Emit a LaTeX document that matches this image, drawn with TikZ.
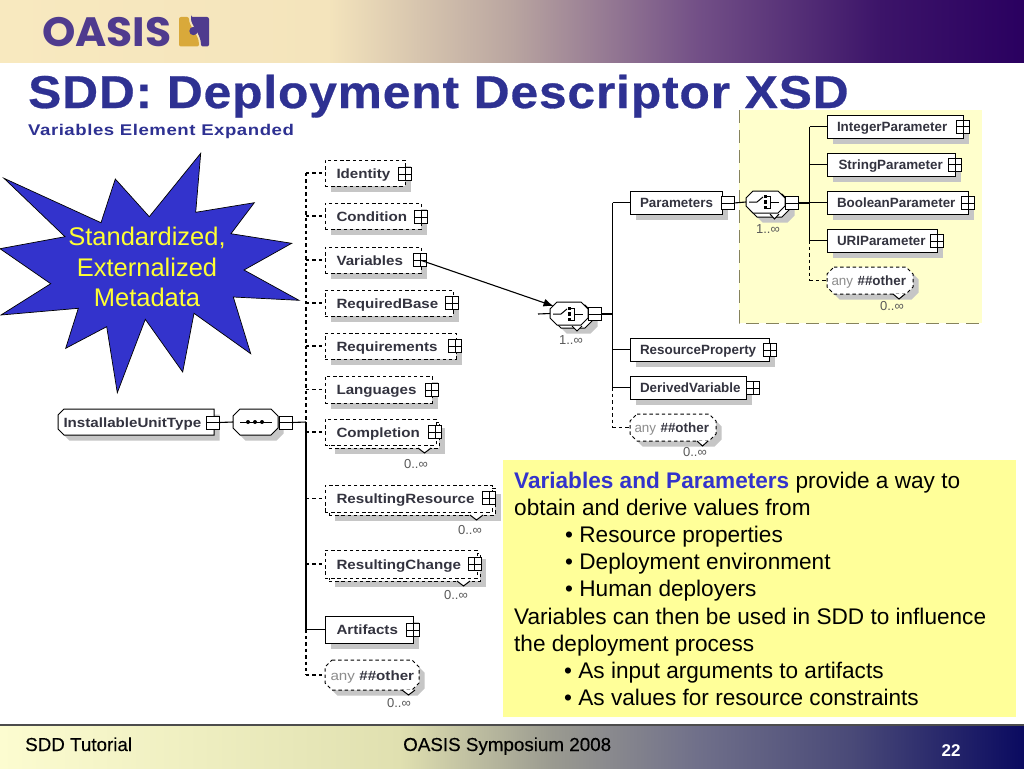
\documentclass[tikz,border=0pt]{standalone}
\usepackage{fontspec}
\setmainfont{Liberation Sans}
\newfontfamily\logofont[FakeStretch=1.035]{Poppins}
\newfontfamily\titlefont[FakeStretch=1.08,LetterSpace=1.9,FakeBold=0.6]{Liberation Sans}
\newfontfamily\subfont[FakeStretch=1.2,LetterSpace=3.5]{Liberation Sans}
\newfontfamily\elemwide[FakeStretch=1.13]{Liberation Sans}
\newfontfamily\elemplain{Liberation Sans}
\newfontfamily\footfont[FakeBold=0.3]{Liberation Sans}
\newcommand{\curelem}{\elemwide}
\usetikzlibrary{shapes.misc,shadows,arrows.meta}
\definecolor{bandpurple}{HTML}{2A0060}
\definecolor{titleblue}{HTML}{2E3192}
\definecolor{logopurple}{HTML}{4F3B8E}
\definecolor{logogold}{HTML}{D9A93A}
\definecolor{panelyellow}{HTML}{FFFFCC}
\definecolor{calloutyellow}{HTML}{FFFF99}
\definecolor{starblue}{HTML}{3333CC}
\definecolor{staryellow}{HTML}{FFFF33}
\definecolor{shadowgray}{HTML}{C6C6C6}
\definecolor{elemtext}{HTML}{33333F}
\definecolor{bandA}{HTML}{F8E9BF}
\definecolor{bandB}{HTML}{F4E4BC}
\definecolor{bandC}{HTML}{B9A5A0}
\definecolor{bandD}{HTML}{735087}
\definecolor{bandE}{HTML}{3C1469}
\definecolor{footA}{HTML}{FCFCD0}
\definecolor{footB}{HTML}{E0E0B0}
\definecolor{footC}{HTML}{9A9A90}
\definecolor{footD}{HTML}{70708A}
\definecolor{footE}{HTML}{4A4A78}
\definecolor{footF}{HTML}{0A0A60}
\pgfdeclarehorizontalshading{bandshade}{100bp}{color(0bp)=(bandA);color(25bp)=(bandA);color(41bp)=(bandB);color(50bp)=(bandC);color(59bp)=(bandD);color(68bp)=(bandE);color(75bp)=(bandpurple);color(100bp)=(bandpurple)}
\pgfdeclarehorizontalshading{footshade}{100bp}{color(0bp)=(footA);color(25bp)=(footA);color(44.5bp)=(footB);color(52bp)=(footC);color(59bp)=(footD);color(66.5bp)=(footE);color(75bp)=(footF);color(100bp)=(footF)}
\tikzset{
  elemline/.style={line width=1pt,draw=black},
  conn/.style={line width=1.1pt,draw=black},
  conndash/.style={line width=1.05pt,draw=black,dash pattern=on 3.4pt off 3pt},
  dashline/.style={dash pattern=on 3.4pt off 2.8pt},
  elembase/.style={rectangle,elemline,fill=white,inner sep=0pt,outer sep=0pt,text=elemtext,align=left,
    font=\fontsize{13.4}{15}\curelem\bfseries\selectfont,text height=12pt,text depth=2pt},
  castshadow/.style={drop shadow={shadow xshift=5.5pt,shadow yshift=-5.5pt,fill=shadowgray,opacity=1}},
  solidelem/.style={elembase,castshadow},
  dashelem/.style={elembase,castshadow,dashline},
  dashflat/.style={elembase,dashline},
  chamlabel/.style={elembase,draw=none,fill=none},
  plusbox/.style={rectangle,elemline,fill=white,inner sep=0pt,outer sep=0pt,minimum size=13pt,
    path picture={\draw[line width=0.9pt] (path picture bounding box.north) -- (path picture bounding box.south)
      (path picture bounding box.west) -- (path picture bounding box.east);}},
  minusbox/.style={rectangle,elemline,fill=white,inner sep=0pt,outer sep=0pt,minimum size=13pt,
    path picture={\draw[line width=0.9pt] (path picture bounding box.west) -- (path picture bounding box.east);}},
  occurs/.style={text=black!65,inner sep=0pt,font=\fontsize{13}{15}\selectfont},
}
\newcommand{\Elem}[7]{\node[#6,minimum width={(#4-#2)*1pt},minimum height={(#5-#3)*1pt},text width={(#4-#2)*1pt}] (#1) at ({(#2+#4)/2},{(#3+#5)/2}) {\hspace*{11.5pt}\makebox[0pt][l]{#7}};}
% x1 y1 x2 y2 left-chamfer right-chamfer
\newcommand{\ChamPath}[6]{({#1+#5},#2) -- ({#3-#6},#2) -- (#3,{#2+#6}) -- (#3,{#4-#6}) -- ({#3-#6},#4) -- ({#1+#5},#4) -- (#1,{#4-#5}) -- (#1,{#2+#5}) -- cycle}
\newcommand{\ChamShadow}[6]{\fill[shadowgray,shift={(5.5,5.5)}] \ChamPath{#1}{#2}{#3}{#4}{#5}{#6};}
% name x1 y1 x2 y2 cl cr linestyle text
\newcommand{\Cham}[9]{\draw[elemline,fill=white,#8] \ChamPath{#2}{#3}{#4}{#5}{#6}{#7};
  \node[chamlabel,minimum width={(#4-#2)*1pt},minimum height={(#5-#3)*1pt},text width={(#4-#2)*1pt}] (#1) at ({(#2+#4)/2},{(#3+#5)/2}) {\hspace*{11.5pt}\makebox[0pt][l]{#9}};}
\newcommand{\Plus}[3]{\node[plusbox] (#1) at (#2,#3) {};}
\newcommand{\Minus}[3]{\node[minusbox] (#1) at (#2,#3) {};}
\newcommand{\Caret}[3]{\draw[elemline,fill=white] (#1,#3) -- ({(#1+#2)/2},{#3+5}) -- (#2,#3);}
\newcommand{\Occ}[3]{\node[occurs,anchor=center] (#1) at (#2,#3) {0..∞};}
\newcommand{\OccOne}[3]{\node[occurs,anchor=center] (#1) at (#2,#3) {1..∞};}
\newcommand{\AnyText}{{\mdseries\color{black!45}any} \#\#other}
\newcommand{\SwitchGlyph}[2]{%
  \begin{scope}[shift={(#1,#2)}]
    \draw[line width=1pt] (-17,0) -- (-9,0) -- (-3,-5);
    \fill (-2.5,-7) rectangle +(3.4,3.4);
    \fill (-2.5,-1.7) rectangle +(3.4,3.4);
    \fill (-2.5,3.6) rectangle +(3.4,3.4);
    \draw[line width=1pt] (1,-6) -- (4,-6) -- (4,6) -- (1,6) (4,0) -- (13,0);
  \end{scope}}
\begin{document}
\begin{tikzpicture}[x=1pt,y=-1pt]
\useasboundingbox (0,0) rectangle (1024,768);
\fill[white] (0,0) rectangle (1024,768);
% top band
\shade[shading=bandshade] (0,0) rectangle (1024,62);
% logo
\node[inner sep=0pt,anchor=base west,text=logopurple,font=\fontsize{41}{41}\logofont\bfseries\selectfont] (oasislogo) at (42,46.5) {OASIS};
\fill[logogold,rounded corners=2pt] (179,17) -- (189,17) .. controls (189,27) and (199,34) .. (199,46.5) -- (179,46.5) -- cycle;
\fill[logopurple,rounded corners=2pt] (191,17) -- (209,17) -- (209,46.5) -- (201,46.5) .. controls (201,34) and (191,25) .. (191,17) -- cycle;
\fill[logopurple] (193.5,31) circle (4.2);
% title
\node[inner sep=0pt,anchor=base west,text=titleblue,font=\fontsize{46}{46}\titlefont\bfseries\selectfont] (title) at (28,108) {SDD: Deployment Descriptor XSD};
\node[inner sep=0pt,anchor=base west,text=titleblue,font=\fontsize{15.5}{16}\subfont\bfseries\selectfont] (subtitle) at (28,135) {Variables Element Expanded};
% pale panel
\fill[panelyellow] (739,110) rectangle (982,323);
\draw[line width=1pt,draw=black!55!olive!70,dash pattern=on 13pt off 7pt] (739,110) -- (739,323) -- (982,323);
% star
\draw[fill=starblue,draw=black,line width=0.7pt,line join=miter] (200.7,153.3) -- (195.7,212.3) -- (254.3,202.7) -- (231,233.7) -- (291.7,243.3) -- (244,270) -- (299,300.3) -- (233.3,297) -- (250.7,353.7) -- (194,313.3) -- (182.7,372) -- (145.3,319.3) -- (117.3,392.7) -- (106.7,326.7) -- (65.7,348.3) -- (78.3,308.3) -- (1,315) -- (50.7,283.7) -- (0,248.7) -- (65,236.7) -- (4,178.3) -- (101,222.7) -- (115.3,179) -- (149.3,216.7) -- cycle;
\node[inner sep=0pt,text=staryellow,align=center,anchor=center,font=\fontsize{25.5}{30.7}\selectfont] (startext) at (147,267) {Standardized,\\Externalized\\Metadata};
% callout
\node[rectangle,fill=calloutyellow,inner sep=0pt,minimum width=513pt,minimum height=257pt,anchor=north west] (callout) at (503,460) {};
\node[inner sep=0pt,anchor=north west,align=left,text=black,font=\fontsize{22.6}{27.2}\selectfont] (callouttext) at (514,471.5) {{\bfseries\color{starblue}Variables and Parameters} provide a way to\\obtain and derive values from\\\hspace*{51pt}• Resource properties\\\hspace*{51pt}• Deployment environment\\\hspace*{51pt}• Human deployers\\Variables can then be used in SDD to influence\\the deployment process\\\hspace*{50pt}• As input arguments to artifacts\\\hspace*{50pt}• As values for resource constraints};
% footer
\shade[shading=footshade] (0,725) rectangle (1024,768);
\draw[line width=1.2pt,draw=black!70] (0,725) -- (1024,725);
\node[inner sep=0pt,anchor=base west,font=\fontsize{18.8}{20}\footfont\selectfont] (foot1) at (25,751) {SDD Tutorial};
\node[inner sep=0pt,anchor=base west,font=\fontsize{18.8}{20}\footfont\selectfont] (foot2) at (403,751) {OASIS Symposium 2008};
\node[inner sep=0pt,anchor=base,text=white,font=\fontsize{17}{20}\bfseries\selectfont] (foot3) at (951,756) {22};
% root
\ChamShadow{58}{409}{214}{435}{6}{0}
\Cham{iut}{58}{409}{214}{435}{6}{0}{}{\hspace*{-6pt}InstallableUnitType}
\Minus{iutm}{212.5}{422.5}
\ChamShadow{233}{409}{278}{435}{7}{7}
\Cham{seq}{233}{409}{278}{435}{7}{7}{}{}
\draw[line width=1pt] (240,422) -- (272,422);
\fill (248,422) circle (2) (255,422) circle (2) (262,422) circle (2);
\Minus{seqm}{285.5}{422.5}
\draw[conn] (iutm.east) -- (seq.west);
\coordinate (trunkA) at (306,422);
\draw[conn] (seqm.east) -- (trunkA);
% first column
\Elem{identity}{325}{160}{405}{186}{dashelem}{Identity}
\Elem{condition}{325}{203}{421}{229}{dashelem}{Condition}
\Elem{variables}{325}{247}{421}{273}{dashelem}{Variables}
\Elem{requiredbase}{325}{290}{453}{316}{dashelem}{RequiredBase}
\Elem{requirements}{325}{333}{456}{359}{dashelem}{Requirements}
\Elem{languages}{325}{376}{432}{403}{dashelem}{Languages}
\Elem{completionb}{329}{422}{439}{448}{dashelem}{}
\Elem{completion}{325}{419}{436}{445}{dashflat}{Completion}
\Caret{418}{431}{448}
\Elem{resourceb}{329}{488}{495}{515}{dashelem}{}
\Elem{resource}{325}{485}{492}{512}{dashflat}{ResultingResource}
\Caret{470}{483}{515}
\Elem{changeb}{329}{553}{480}{581}{dashelem}{}
\Elem{change}{325}{550}{477}{578}{dashflat}{ResultingChange}
\Caret{457}{470}{581}
\Elem{artifacts}{325}{616}{413}{643}{solidelem}{Artifacts}
\ChamShadow{325}{660}{419}{690}{7}{7}
\Cham{anya}{325}{660}{419}{690}{7}{7}{dashline}{\hspace*{-6pt}\AnyText}
\Caret{402}{415}{690}
\Plus{identityp}{405}{174}
\Plus{conditionp}{421}{217}
\Plus{variablesp}{420}{260}
\Plus{requiredbasep}{452}{303}
\Plus{requirementsp}{455}{346}
\Plus{languagesp}{431.5}{390}
\Plus{completionp}{435}{432}
\Plus{resourcep}{489}{498}
\Plus{changep}{474.5}{564}
\Plus{artifactsp}{413}{630}
\Occ{occa}{416}{464}
\Occ{occb}{470}{530}
\Occ{occc}{456}{595}
\Occ{occd}{399}{703}
% trunk A
\draw[conndash] (trunkA |- identity.west) -- (trunkA);
\draw[conn] (trunkA) -- (trunkA |- artifacts.west);
\draw[conndash] (trunkA |- artifacts.west) -- (trunkA |- anya.west);
\foreach \n in {identity,condition,variables,requiredbase,requirements,languages,completion,resource,change,anya}
  \draw[conndash] (trunkA |- \n.west) -- (\n.west);
\draw[conn] (trunkA |- artifacts.west) -- (artifacts.west);
% switch 1
\ChamShadow{554}{305}{592}{328}{7}{7}
\Cham{swoneb}{554}{305}{592}{328}{7}{7}{}{}
\Cham{swone}{550}{302}{588}{325}{7}{7}{}{}
\Caret{572}{582}{326}
\SwitchGlyph{570}{314}
\Minus{swonem}{594.5}{314}
\OccOne{occe}{571}{340}
\coordinate (trunkB) at (612.5,314);
\coordinate (swonein) at (538,314);
\draw[conn] (swonein) -- (swone.west);
\draw[conn] (swonem.east) -- (trunkB);
% second column
\renewcommand{\curelem}{\elemplain}
\Elem{parameters}{630}{191}{722}{214}{solidelem}{\hspace*{-1.5pt}Parameters}
\Minus{parametersm}{727.5}{203}
\Elem{resprop}{630}{338}{769}{361}{solidelem}{\hspace*{-1.5pt}ResourceProperty}
\Plus{respropp}{770}{350}
\Elem{derived}{630}{376}{746}{399}{solidelem}{\hspace*{-1.5pt}DerivedVariable}
\Plus{derivedp}{753}{388}
\ChamShadow{630}{414}{716}{441}{7}{7}
\Cham{anyb}{630}{414}{716}{441}{7}{7}{dashline}{\hspace*{-7pt}\AnyText}
\Caret{697}{708}{441}
\Occ{occf}{695}{452}
\draw[conn] (trunkB |- parameters.west) -- (trunkB |- derived.west);
\draw[conndash] (trunkB |- derived.west) -- (trunkB |- anyb.west);
\draw[conn] (trunkB |- parameters.west) -- (parameters.west);
\draw[conn] (trunkB |- resprop.west) -- (resprop.west);
\draw[conn] (trunkB |- derived.west) -- (derived.west);
\draw[conndash] (trunkB |- anyb.west) -- (anyb.west);
% switch 2
\ChamShadow{750}{194}{789}{217}{7}{7}
\Cham{swtwob}{750}{194}{789}{217}{7}{7}{}{}
\Cham{swtwo}{746}{191}{785}{213}{7}{7}{}{}
\Caret{770}{779}{214}
\SwitchGlyph{766}{202}
\Minus{swtwom}{791.5}{203}
\OccOne{occg}{768}{229}
\draw[conn] (parametersm.east) -- (swtwo.west);
\coordinate (trunkC) at (809.5,203);
\draw[conn] (swtwom.east) -- (trunkC);
% third column
\Elem{intparam}{827}{115}{963}{138}{solidelem}{\hspace*{-1.5pt}IntegerParameter}
\Plus{intparamp}{963}{126.5}
\Elem{strparam}{827}{153}{955}{176}{solidelem}{StringParameter}
\Plus{strparamp}{955}{164.5}
\Elem{boolparam}{827}{191}{968}{214}{solidelem}{\hspace*{-1.5pt}BooleanParameter}
\Plus{boolparamp}{968}{203}
\Elem{uriparam}{827}{229}{937}{252}{solidelem}{\hspace*{-1.5pt}URIParameter}
\Plus{uriparamp}{937}{241}
\ChamShadow{827}{267}{913}{294}{7}{7}
\Cham{anyc}{827}{267}{913}{294}{7}{7}{dashline}{\hspace*{-7pt}\AnyText}
\Caret{893}{905}{294}
\Occ{occh}{892}{306}
\draw[conn] (trunkC |- intparam.west) -- (trunkC |- uriparam.west);
\draw[conndash] (trunkC |- uriparam.west) -- (trunkC |- anyc.west);
\foreach \n in {intparam,strparam,boolparam,uriparam}
  \draw[conn] (trunkC |- \n.west) -- (\n.west);
\draw[conndash] (trunkC |- anyc.west) -- (anyc.west);
% arrow
\coordinate (arrowtip) at (553.5,306);
\draw[line width=1.1pt,-{Latex[length=10pt,width=8pt]}] (variablesp.center) -- (arrowtip);
\end{tikzpicture}
\end{document}
